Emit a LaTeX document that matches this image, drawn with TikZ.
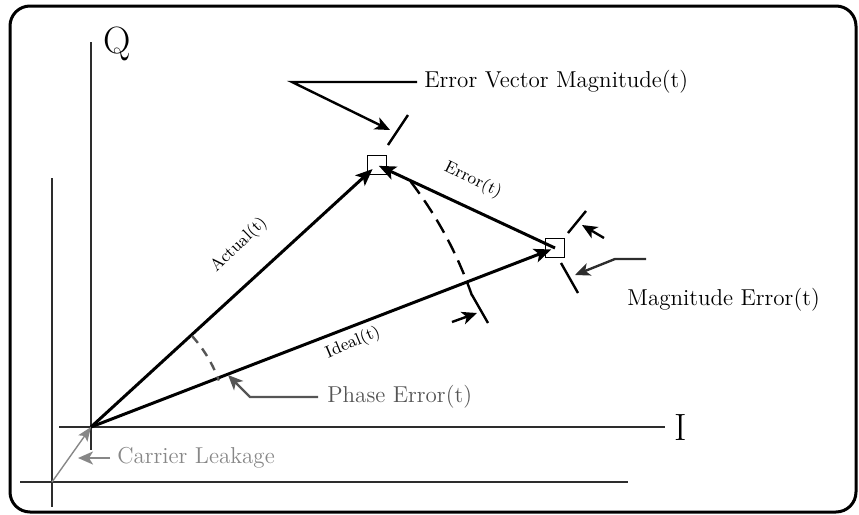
\documentclass[tikz,border=0pt]{standalone}
\usepackage{fontspec}
\usepackage{tikz}
\usetikzlibrary{arrows.meta,positioning,calc}
\definecolor{axisgray}{RGB}{45,45,45}
\definecolor{notegray}{RGB}{85,85,85}
\definecolor{leakgray}{RGB}{135,135,135}

\begin{document}
\begin{tikzpicture}[x=0.5pt, y=-0.5pt,
    vec/.style={line width=1.5pt, -{Stealth[length=8.5pt,width=7pt,inset=2pt]}},
    axis/.style={line width=1pt, axisgray},
    tick/.style={line width=1.2pt},
    marker/.style={draw, line width=0.8pt, minimum size=9.5pt, inner sep=0pt},
    lbl/.style={font=\fontsize{11.5}{13}\selectfont, anchor=west, inner sep=1.5pt},
    vlbl/.style={font=\fontsize{8.5}{10}\selectfont},
    ptr/.style={line width=1.2pt, -{Stealth[length=7.5pt,width=6.5pt,inset=2pt]}}]

    \useasboundingbox (0,0) rectangle (859,515);
    % Frame
    \draw[line width=1.5pt, rounded corners=10pt] (10,6) rectangle (856,512);

    % Outer axes
    \coordinate (O2) at (52,482);
    \draw[axis] (52,178) -- (52,507);
    \draw[axis] (20,482) -- (628,482);
    % Inner axes
    \coordinate (O) at (91,427);
    \draw[axis] (91,42) -- (91,450);
    \draw[axis] (59,427) -- (665,427);
    \node[font=\fontsize{19}{20}\selectfont] (qlbl) at (117,44) {Q};
    \node[font=\fontsize{19}{20}\selectfont] (ilbl) at (681,428) {I};

    % Points
    \node[marker] (A) at (377,165) {};
    \node[marker] (B) at (555,248) {};

    % Vectors
    \draw[vec, shorten >=3pt] (O) -- (A.center);
    \draw[vec, shorten >=2pt] (O) -- (B.center);
    \draw[vec, shorten >=1pt] (B.center) -- (A.center);
    \node[vlbl, rotate=44] (actlbl) at (239,245) {Actual(t)};
    \node[vlbl, rotate=-26] (errlbl) at (473,180) {Error(t)};
    \node[vlbl, rotate=23] (idllbl) at (353,343) {Ideal(t)};

    % Arcs
    \draw[line width=1.2pt, dash pattern=on 7.5pt off 4pt] (O) ++(-37.5:403) arc[start angle=-37.5, end angle=-18, radius=403];
    \draw[notegray, line width=1.2pt, dash pattern=on 4.5pt off 3.5pt] (O) ++(-42:136) arc[start angle=-42, end angle=-20, radius=136];

    % Ticks
    \draw[tick] (388,145) -- (408,115);
    \draw[tick] (568,233) -- (586,211);
    \draw[tick] (561,263) -- (578,293);
    \draw[tick] (472,295) -- (488,323);

    % Error vector magnitude
    \node[lbl] (evm) at (421,82) {Error Vector Magnitude(t)};
    \coordinate (evmtip) at (390,130);
    \draw[ptr, line join=miter] ($(evm.west)+(-4,0)$) -- (292,82) -- (evmtip);

    % Magnitude error
    \node[lbl] (mag) at (624,300) {Magnitude Error(t)};
    \coordinate (magtip) at (575,275);
    \draw[ptr, axisgray] (646,259) -- (615,259) -- (magtip);
    \draw[ptr] (604,238) -- (582,225);
    \draw[ptr] (452,322) -- (477,313);

    % Phase error
    \node[lbl, text=notegray] (phase) at (324,397) {Phase Error(t)};
    \coordinate (phtip) at (228,375);
    \draw[ptr, notegray] ($(phase.west)+(-6,0)$) -- ++(-68,0) -- (phtip);

    % Carrier leakage
    \draw[leakgray, line width=0.7pt, -{Stealth[length=7pt,width=5.5pt,inset=1.5pt]}] (O2) -- (O);
    \node[lbl, text=leakgray] (leak) at (114,458) {Carrier Leakage};
    \draw[ptr, leakgray] ($(leak.west)+(-4,0)$) -- ++(-32,0);
\end{tikzpicture}
\end{document}
